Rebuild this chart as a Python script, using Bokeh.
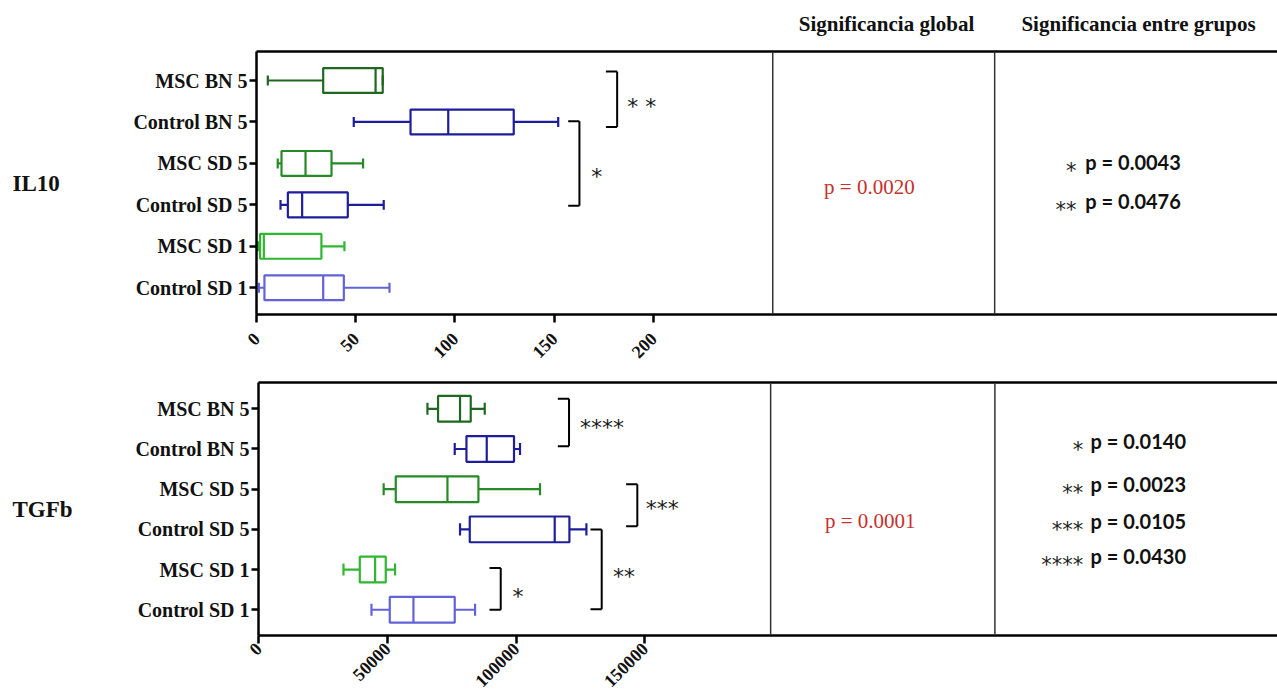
import math
from bokeh.plotting import figure
from bokeh.models import ColumnDataSource, FixedTicker, LinearAxis, Span, Range1d
from bokeh.layouts import column, row
from bokeh.embed import file_html
from bokeh.resources import INLINE
from bokeh.core.properties import value

# ---------------- data (bottom -> top) ----------------
groups = ["Control SD 1", "MSC SD 1", "Control SD 5", "MSC SD 5", "Control BN 5", "MSC BN 5"]
colors = ["#6262da", "#30b630", "#1e1e9c", "#268a26", "#1e1e9c", "#1f681f"]

il10_min = [1.2, 0.8, 12.1, 10.7, 49.0, 5.7]
il10_q1 = [4.0, 1.8, 15.8, 12.6, 77.6, 33.6]
il10_med = [33.6, 3.7, 23.0, 24.7, 96.6, 60.0]
il10_q3 = [44.0, 32.7, 46.0, 37.8, 129.6, 63.6]
il10_max = [67.0, 44.3, 64.1, 53.7, 152.0, 63.6]
il10_ticks = [0, 50, 100, 150, 200]

tgfb_min = [43870, 33000, 78260, 48600, 76200, 65600]
tgfb_q1 = [50970, 39330, 82030, 53300, 80750, 69720]
tgfb_med = [60170, 45280, 115020, 73370, 88630, 78260]
tgfb_q3 = [76200, 49420, 120730, 85400, 99220, 82410]
tgfb_max = [84090, 53030, 127330, 109320, 101550, 87850]
tgfb_ticks = [0, 50000, 100000, 150000]

# significance brackets
il10_br_x = [181.7, 162.7]
il10_br_top = [6.22, 5.02]
il10_br_bot = [4.88, 2.98]
il10_br_text = ["* *", "*"]
il10_br_tx = [186.8, 168.6]
il10_br_ty = [5.52, 3.84]

tgfb_br_x = [120580, 147100, 133270, 94060]
tgfb_br_top = [6.25, 4.12, 3.0, 2.04]
tgfb_br_bot = [5.07, 3.08, 1.01, 1.0]
tgfb_br_text = ["****", "***", "**", "*"]
tgfb_br_tx = [124800, 150350, 137650, 98600]
tgfb_br_ty = [5.69, 3.66, 1.98, 1.48]

# table texts
headers = ["Significancia global", "Significancia entre grupos"]
il10_global = "p = 0.0020"
tgfb_global = "p = 0.0001"
il10_stars = ["*", "**"]
il10_pvals = ["p = 0.0043", "p = 0.0476"]
il10_pval_y = [4.04, 3.10]
tgfb_stars = ["*", "**", "***", "****"]
tgfb_pvals = ["p = 0.0140", "p = 0.0023", "p = 0.0105", "p = 0.0430"]
tgfb_pval_y = [5.19, 4.14, 3.22, 2.35]

SERIF = value("Liberation Serif")
LEFT_W = 125
HEAD_H = 40
H1 = 326
H2 = 330


def blank(width, height, xr, yr):
    f = figure(width=width, height=height, x_range=Range1d(*xr), y_range=Range1d(*yr),
               x_axis_type=None, y_axis_type=None, output_backend="svg",
               toolbar_location=None, min_border=0)
    f.grid.visible = False
    f.outline_line_color = None
    return f


def name_fig(name, height, yr):
    # frame gets aligned with the neighbouring panel's frame -> share its y range
    f = blank(LEFT_W, height, (0, LEFT_W), yr)
    f.text(x=[12], y=[(yr[0] + yr[1]) / 2], text=[name], text_font=SERIF,
           text_font_style="bold", text_font_size="23px", text_color="#111111",
           text_baseline="middle")
    return f


def panel(glob, mn, q1, med, q3, mx, ticks, xmax, yr, height, bleft, btop, bbot,
          box_h, cap_h, brx, brt, brb, brtext, brtx, brty, seps, gx, gy,
          pvx, stx, pvals, pvy, stars, standoff):
    p = figure(width=1277 - LEFT_W, height=height, x_range=Range1d(0, xmax),
               y_range=Range1d(*yr), output_backend="svg", toolbar_location=None,
               min_border_left=bleft, min_border_right=0, min_border_top=btop,
               min_border_bottom=bbot)
    p.xgrid.visible = False
    p.ygrid.visible = False
    p.outline_line_color = None

    ys = list(range(1, len(groups) + 1))
    src = ColumnDataSource(dict(y=ys, mn=mn, q1=q1, med=med, q3=q3, mx=mx, c=colors,
                                bt=[y - box_h for y in ys], tp=[y + box_h for y in ys],
                                cb=[y - cap_h for y in ys], ct=[y + cap_h for y in ys]))
    p.segment(x0="mn", y0="y", x1="q1", y1="y", line_color="c", line_width=2.2, source=src)
    p.segment(x0="q3", y0="y", x1="mx", y1="y", line_color="c", line_width=2.2, source=src)
    p.segment(x0="mn", y0="cb", x1="mn", y1="ct", line_color="c", line_width=2.2, source=src)
    p.segment(x0="mx", y0="cb", x1="mx", y1="ct", line_color="c", line_width=2.2, source=src)
    p.quad(left="q1", right="q3", bottom="bt", top="tp", fill_color=None,
           line_color="c", line_width=2.2, source=src)
    p.segment(x0="med", y0="bt", x1="med", y1="tp", line_color="c", line_width=2.2, source=src)

    # brackets
    tick = xmax * 0.011
    bsrc = ColumnDataSource(dict(x=brx, t=brt, b=brb, xl=[v - tick for v in brx]))
    p.segment(x0="x", y0="b", x1="x", y1="t", line_color="black", line_width=2, source=bsrc)
    p.segment(x0="xl", y0="t", x1="x", y1="t", line_color="black", line_width=2, source=bsrc)
    p.segment(x0="xl", y0="b", x1="x", y1="b", line_color="black", line_width=2, source=bsrc)
    p.text(x=brtx, y=brty, text=brtext, text_font=value("DejaVu Sans"),
           text_font_size="22px", text_color="#1a1a1a", text_baseline="middle",
           y_offset=6)

    # table separators
    for s in seps:
        p.add_layout(Span(location=s, dimension="height", line_color="#333333", line_width=1.5))

    # global p
    p.text(x=[gx], y=[gy], text=[glob], text_font=SERIF, text_font_size="21px",
           text_color="#c8302c", text_align="center", text_baseline="middle")
    # group significance
    p.text(x=[pvx] * len(pvals), y=pvy, text=pvals, text_font=value("Lato"),
           text_font_style="bold", text_font_size="20px", text_color="#111111",
           text_baseline="middle")
    p.text(x=[stx] * len(stars), y=pvy, text=stars, text_font=value("DejaVu Sans"),
           text_font_size="21px", text_color="#222222", text_align="right",
           text_baseline="middle", y_offset=9)

    # axes
    xa = p.xaxis[0]
    xa.ticker = FixedTicker(ticks=ticks)
    xa.major_label_overrides = {t: str(t) for t in ticks}
    xa.major_label_orientation = math.pi / 4
    xa.major_label_text_font = "Liberation Serif"
    xa.major_label_text_font_style = "bold"
    xa.major_label_text_font_size = "18px"
    xa.major_label_text_color = "#111111"
    xa.major_label_standoff = standoff
    xa.axis_line_width = 2.5
    xa.major_tick_line_width = 2.5
    xa.major_tick_out = 8
    xa.major_tick_in = 0
    xa.minor_tick_line_color = None

    ya = p.yaxis[0]
    ya.ticker = FixedTicker(ticks=ys)
    ya.major_label_overrides = {y: g for y, g in zip(ys, groups)}
    ya.major_label_text_font = "Liberation Serif"
    ya.major_label_text_font_style = "bold"
    ya.major_label_text_font_size = "20px"
    ya.major_label_text_color = "#111111"
    ya.axis_line_width = 2.5
    ya.major_tick_line_width = 2.5
    ya.major_tick_out = 7
    ya.major_tick_in = 0
    ya.major_label_standoff = 2
    ya.minor_tick_line_color = None

    top = LinearAxis(ticker=FixedTicker(ticks=[]), axis_line_width=2.5,
                     major_label_text_font_size="0px", minor_tick_line_color=None,
                     major_tick_line_color=None, major_tick_out=0, major_label_standoff=0)
    p.add_layout(top, "above")
    return p


# header
head = blank(1277, HEAD_H, (0, 1277), (HEAD_H, 0))
head.text(x=[886, 1138], y=[23, 23], text=headers, text_font=SERIF,
          text_font_style="bold", text_font_size="21px", text_color="#111111",
          text_align="center", text_baseline="middle")

yr1 = (0.355, 6.70)
yr2 = (0.36, 6.654)
p1 = panel(il10_global, il10_min, il10_q1, il10_med, il10_q3, il10_max,
           il10_ticks, 514.4, yr1, H1, 256 - LEFT_W, 11, 52, 0.30, 0.12,
           il10_br_x, il10_br_top, il10_br_bot, il10_br_text, il10_br_tx, il10_br_ty,
           [260.1, 371.9], 308.8, 3.44, 417.6, 413.1, il10_pvals, il10_pval_y, il10_stars, 13)
p2 = panel(tgfb_global, tgfb_min, tgfb_q1, tgfb_med, tgfb_q3, tgfb_max,
           tgfb_ticks, 395690, yr2, H2, 258 - LEFT_W, 16, 61, 0.32, 0.15,
           tgfb_br_x, tgfb_br_top, tgfb_br_bot, tgfb_br_text, tgfb_br_tx, tgfb_br_ty,
           [198870, 285950], 237580, 3.22, 323100, 320300, tgfb_pvals, tgfb_pval_y, tgfb_stars, 2)

n1 = name_fig("IL10", H1, yr1)
n2 = name_fig("TGFb", H2, yr2)

layout = column(head, row(n1, p1, spacing=0), row(n2, p2, spacing=0), spacing=0)
open("out.html", "w").write(file_html(layout, INLINE))
